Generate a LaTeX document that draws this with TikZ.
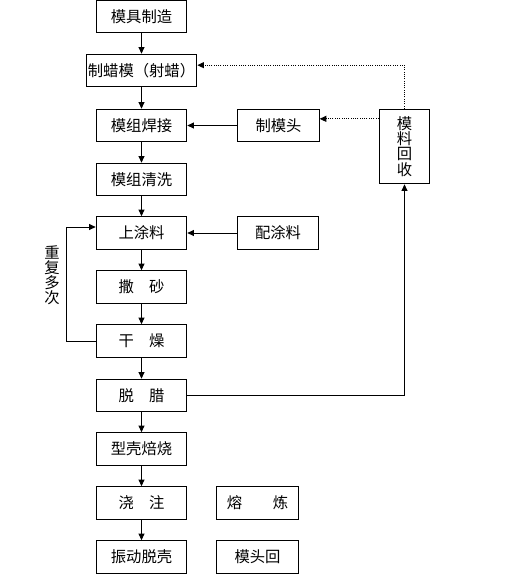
\documentclass[tikz,border=0pt]{standalone}
\usepackage{fontspec}
\setmainfont{Noto Sans CJK SC}
\usetikzlibrary{arrows.meta}
\tikzstyle{box}=[draw,line width=0.7pt,minimum width=68pt,minimum height=24.5pt,inner sep=0pt,font=\fontsize{11.5}{13}\selectfont]
\tikzstyle{sidebox}=[box,minimum width=61pt]
\tikzstyle{flow}=[line width=0.7pt,->,>={Triangle[length=5pt,width=4.5pt]}]
\tikzstyle{recycle}=[flow,densely dotted]

\begin{document}
\begin{tikzpicture}[x=0.75pt,y=-0.75pt]
\useasboundingbox (0,0) rectangle (515,576);

% main column
\node[box] (mojuzz) at (141.5,16.5) {模具制造};
\node[box,minimum width=83pt] (zhilamo) at (141.5,70.5) {制蜡模（射蜡）};
\node[box] (hanjie) at (141.5,125.5) {模组焊接};
\node[box] (qingxi) at (141.5,179.5) {模组清洗};
\node[box] (tuliao) at (141.5,233) {上涂料};
\node[box] (sasha) at (141.5,287) {撒\quad 砂};
\node[box] (ganzao) at (141.5,341) {干\quad 燥};
\node[box] (tuola) at (141.5,395.5) {脱\quad 腊};
\node[box] (beishao) at (141.5,449) {型壳焙烧};
\node[box] (jiaozhu) at (141.5,503) {浇\quad 注};
\node[box] (tuoke) at (141.5,557) {振动脱壳};

% side boxes
\node[sidebox] (motou) at (278.5,125.5) {制模头};
\node[sidebox] (peiliao) at (278,233) {配涂料};
\node[sidebox] (ronglian) at (257.5,503) {熔\qquad 炼};
\node[sidebox] (motouhui) at (257.5,557) {模头回};
\node[box,minimum width=38pt,minimum height=56pt,align=center,font=\fontsize{11.5}{11.5}\selectfont]
  (huishou) at (404.5,146.5) {模\\料\\回\\收};
\node[align=center,font=\fontsize{11.5}{11.3}\selectfont] (chongfu) at (52,275) {重\\复\\多\\次};

% flow
\draw[flow] (mojuzz) -- (zhilamo);
\draw[flow] (zhilamo) -- (hanjie);
\draw[flow] (hanjie) -- (qingxi);
\draw[flow] (qingxi) -- (tuliao);
\draw[flow] (tuliao) -- (sasha);
\draw[flow] (sasha) -- (ganzao);
\draw[flow] (ganzao) -- (tuola);
\draw[flow] (tuola) -- (beishao);
\draw[flow] (beishao) -- (jiaozhu);
\draw[flow] (jiaozhu) -- (tuoke);
\draw[flow] (motou) -- (hanjie);
\draw[flow] (peiliao) -- (tuliao);

% repeat loop
\coordinate (loop) at (66,227);
\draw[flow] (ganzao.west) -| (loop) -- (loop -| tuliao.west);

% wax recycling
\draw[flow] (tuola.east) -| (huishou.south);
\draw[recycle] (huishou.north) |- ([yshift=4pt]zhilamo.east);
\draw[recycle] ([yshift=5pt]motou.east -| huishou.west) -- ([yshift=5pt]motou.east);
\end{tikzpicture}
\end{document}
